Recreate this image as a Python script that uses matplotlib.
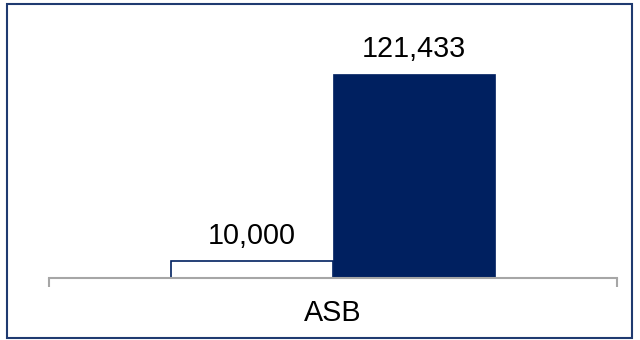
import matplotlib.pyplot as plt
from matplotlib.patches import Rectangle

plt.rc('font', family=['Liberation Sans', 'DejaVu Sans'])
plt.rc('font', size=20.7)

# one category, two series
categories = ['ASB']
target = [10000]
actual = [121433]

navy = '#002060'
grey = '#A6A6A6'

fig = plt.figure(figsize=(6.4, 3.4), dpi=100)
ax = fig.add_axes([0.0766, 0.1824, 0.8875, 0.6918])

w = 0.2852
xs = list(range(len(categories)))
b1 = ax.bar([x - w / 2 for x in xs], target, width=w, color='white',
            edgecolor=navy, linewidth=1.2, zorder=2)
b2 = ax.bar([x + w / 2 for x in xs], actual, width=w, color=navy,
            edgecolor=navy, linewidth=0.5, zorder=2)

for bars, vals in ((b1, target), (b2, actual)):
    for r, v in zip(bars, vals):
        ax.annotate('{:,}'.format(v), (r.get_x() + r.get_width() / 2, v),
                    xytext=(0, 12.5), textcoords='offset points',
                    ha='center', va='baseline', color='black')

ax.set_xlim(-0.5, len(categories) - 0.5)
ax.set_ylim(0, 140000)

for s in ('left', 'right', 'top'):
    ax.spines[s].set_visible(False)
ax.spines['bottom'].set_color(grey)
ax.spines['bottom'].set_linewidth(1.5)
ax.spines['bottom'].set_zorder(3)

# category boundaries as ticks, names as minor labels
ax.set_xticks([x - 0.5 for x in xs] + [len(categories) - 0.5])
ax.set_xticklabels([])
ax.set_xticks(xs, minor=True)
ax.set_xticklabels(categories, minor=True)
ax.tick_params(axis='x', which='major', length=6.5, width=1.5, color=grey)
ax.tick_params(axis='x', which='minor', length=0, pad=15)
ax.set_yticks([])

fig.patches.append(Rectangle((0.0109, 0.0059), 0.9766, 0.982,
                             transform=fig.transFigure, fill=False,
                             edgecolor='#1F3A70', linewidth=1.5))

fig.savefig('out.png', dpi=100)
